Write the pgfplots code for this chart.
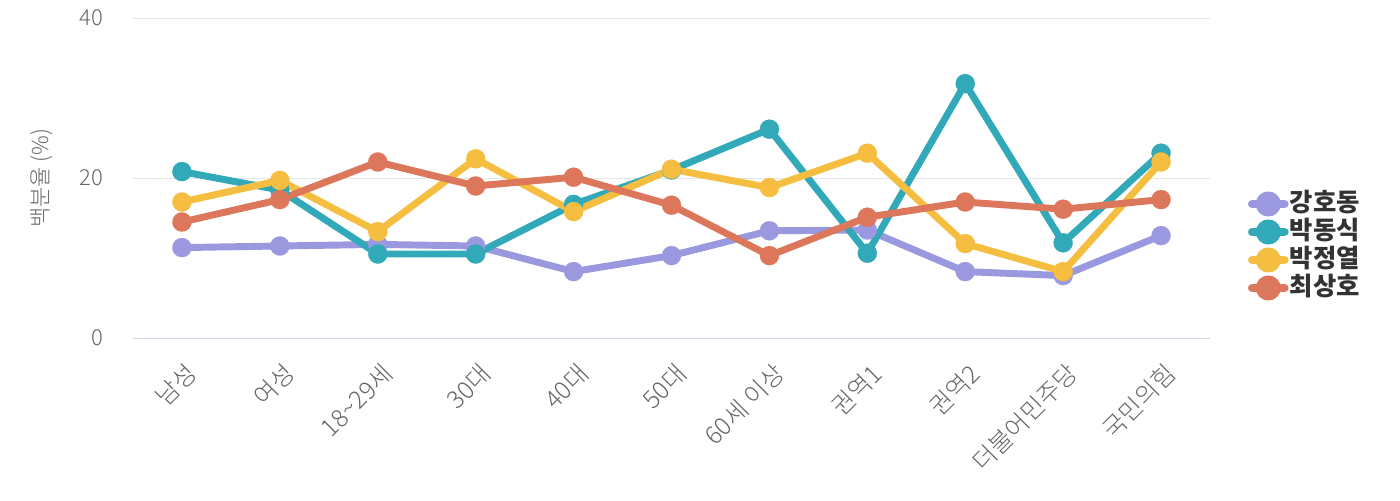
\documentclass[border=0pt]{standalone}
\usepackage{fontspec}
\setmainfont{Noto Sans CJK KR}
\newfontfamily\lightf{Noto Sans CJK KR Light}
\usepackage{pgfplots}
\pgfplotsset{compat=1.18}
\definecolor{cA}{HTML}{9A98DF}
\definecolor{cB}{HTML}{31A9B8}
\definecolor{cC}{HTML}{F5BE41}
\definecolor{cD}{HTML}{DC775C}
\definecolor{tick}{HTML}{666666}
\definecolor{gridc}{HTML}{E6E6E6}
\definecolor{baseax}{HTML}{CCD6EB}
\definecolor{legtext}{HTML}{333333}
\pgfplotsset{
  serstyle/.style={color=#1, line width=5.2pt, line join=round, line cap=round, mark=*, mark size=7.2pt, mark options={line width=0.1pt, fill=#1, draw=#1}},
}
\begin{document}
\begin{tikzpicture}
\useasboundingbox (0,0) rectangle (1050pt,375pt);
\begin{axis}[
  at={(99.75pt,121.5pt)}, anchor=south west,
  scale only axis, width=807.75pt, height=240pt,
  xmin=-0.5, xmax=10.5, ymin=0, ymax=40,
  xtick={0,...,10},
  xticklabels={남성,여성,18\textasciitilde29세,30대,40대,50대,60세 이상,권역1,권역2,더불어민주당,국민의힘},
  ytick={0,20,40},
  ymajorgrids, grid style={gridc, line width=0.75pt},
  axis x line*=bottom, axis y line*=left,
  x axis line style={baseax, line width=0.75pt},
  y axis line style={draw=none},
  major tick length=0pt,
  /pgf/number format/assume math mode=true,
  xticklabel style={rotate=45, anchor=east, font=\lightf\fontsize{18.5}{20}\selectfont, text=tick, inner sep=0pt, xshift=-11pt, yshift=-22pt},
  yticklabel style={anchor=east, font=\lightf\fontsize{16.5}{18}\selectfont, text=tick, inner sep=0pt, xshift=-22pt},
  ylabel={백분율 (\%)},
  ylabel style={font=\lightf\fontsize{16.5}{18}\selectfont, text=tick, at={(axis description cs:-0.085,0.5)}, anchor=center, rotate=0},
  legend style={at={(axis description cs:1.035,0.2875)}, anchor=west, draw=none, fill=none,
    font=\bfseries\fontsize{19}{21}\selectfont, text=legtext, row sep=0pt, inner sep=0pt,
    nodes={inner sep=1pt, text height=15pt, text depth=4pt}},
  legend cell align=left,
  legend image code/.code={
    \draw[line width=6.5pt] (0pt,0pt) -- (24pt,0pt);
    \fill (12pt,0pt) circle (6.8pt);
  },
  clip=false,
]
\addplot[serstyle=cA] coordinates {(0,11.3) (1,11.5) (2,11.7) (3,11.5) (4,8.3) (5,10.3) (6,13.4) (7,13.5) (8,8.3) (9,7.8) (10,12.8)};
\addlegendentry{강호동}
\addplot[serstyle=cB] coordinates {(0,20.8) (1,18.5) (2,10.5) (3,10.5) (4,16.7) (5,21.0) (6,26.1) (7,10.6) (8,31.8) (9,11.9) (10,23.1)};
\addlegendentry{박동식}
\addplot[serstyle=cC] coordinates {(0,17.0) (1,19.7) (2,13.3) (3,22.4) (4,15.8) (5,21.1) (6,18.8) (7,23.1) (8,11.8) (9,8.3) (10,22.0)};
\addlegendentry{박정열}
\addplot[serstyle=cD] coordinates {(0,14.5) (1,17.3) (2,22.0) (3,19.0) (4,20.1) (5,16.6) (6,10.3) (7,15.1) (8,17.0) (9,16.1) (10,17.3)};
\addlegendentry{최상호}
\end{axis}
\end{tikzpicture}
\end{document}
